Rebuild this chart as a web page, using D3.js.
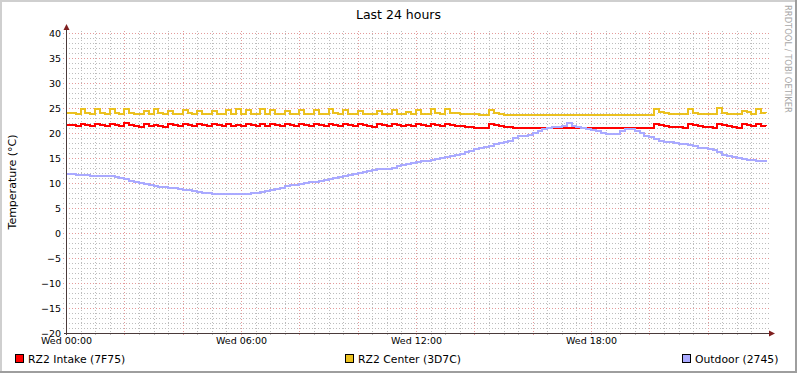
<!DOCTYPE html>
<html>
<head>
<meta charset="utf-8">
<script src="https://cdn.jsdelivr.net/npm/d3@7"></script>
<style>
body { margin: 0; background: #fff; }
text { font-family: "DejaVu Sans", sans-serif; }
</style>
</head>
<body>
<div id="chart"></div>
<script>
// series names / colours as in the legend
const seriesNames = ["RZ2 Intake (7F75)", "RZ2 Center (3D7C)", "Outdoor (2745)"];
const seriesColors = ["#ff0000", "#ebc11f", "#aaaaff"];

const yTicks = [-20, -15, -10, -5, 0, 5, 10, 15, 20, 25, 30, 35, 40];
const xLabelHours = [0, 6, 12, 18];
const stepMinutes = 10; // one sample every 10 min, Wed 00:00 .. Thu 00:00

const intake = [
  21.7, 21.6, 21.4, 21.8, 21.6, 21.4, 21.9, 21.6, 21.4, 21.8,
  21.6, 21.4, 22.1, 21.6, 21.4, 21.3, 21.8, 21.5, 21.7, 21.5,
  21.3, 21.8, 21.6, 21.4, 21.8, 21.6, 21.4, 21.8, 21.6, 21.4,
  21.8, 21.6, 21.4, 21.8, 21.5, 21.7, 21.5, 21.8, 21.6, 21.4,
  21.8, 21.5, 21.8, 21.6, 21.4, 21.8, 21.6, 21.4, 21.8, 21.6,
  21.4, 21.8, 21.6, 21.4, 21.8, 21.6, 21.4, 21.8, 21.6, 21.4,
  21.8, 21.6, 21.4, 21.3, 21.8, 21.6, 21.4, 21.8, 21.6, 21.4,
  21.7, 21.5, 21.8, 21.6, 21.4, 21.8, 21.6, 21.4, 21.9, 21.7,
  21.5, 21.4, 21.3, 21.2, 21.1, 21.1, 21.0, 21.8, 21.6, 21.4,
  21.3, 21.2, 21.1, 21.1, 21.0, 21.0, 21.0, 21.0, 21.0, 21.0,
  21.0, 21.0, 21.0, 21.0, 21.0, 21.0, 21.0, 21.0, 21.0, 21.0,
  21.0, 21.0, 21.0, 21.0, 21.0, 21.0, 21.0, 21.0, 21.0, 21.0,
  21.0, 21.8, 21.6, 21.5, 21.3, 21.2, 21.2, 21.1, 21.8, 21.6,
  21.4, 21.3, 21.2, 21.1, 21.8, 21.6, 21.4, 21.3, 21.1, 21.8,
  21.6, 21.4, 21.8, 21.5, 21.4
];

const center = [
  24.1, 24.0, 23.9, 24.9, 24.0, 23.9, 24.8, 24.0, 23.9, 24.9,
  24.0, 23.8, 24.9, 24.0, 23.9, 23.8, 24.5, 23.9, 24.8, 24.0,
  23.8, 24.4, 23.9, 23.8, 24.7, 24.0, 23.8, 24.4, 23.9, 23.8,
  24.4, 23.9, 23.8, 24.6, 23.9, 24.8, 23.9, 24.6, 23.9, 23.8,
  24.8, 23.9, 24.6, 23.9, 23.8, 24.5, 23.9, 23.8, 24.6, 23.9,
  23.8, 24.6, 23.9, 23.8, 24.9, 24.0, 23.8, 24.7, 23.9, 23.8,
  24.5, 23.9, 23.8, 23.8, 24.4, 23.9, 23.8, 24.7, 23.9, 23.8,
  24.2, 23.8, 24.6, 23.9, 23.8, 24.8, 24.0, 23.8, 24.9, 24.1,
  24.0, 23.9, 23.8, 23.8, 23.9, 23.7, 23.7, 24.6, 24.0, 23.8,
  23.7, 23.7, 23.7, 23.7, 23.7, 23.7, 23.7, 23.7, 23.7, 23.7,
  23.7, 23.7, 23.7, 23.7, 23.7, 23.7, 23.7, 23.7, 23.7, 23.7,
  23.7, 23.7, 23.7, 23.7, 23.7, 23.7, 23.7, 23.7, 23.7, 23.7,
  23.7, 24.8, 24.2, 24.1, 23.9, 23.8, 23.8, 23.8, 24.9, 24.1,
  23.9, 23.8, 23.8, 23.8, 25.0, 24.1, 23.9, 23.8, 23.8, 24.5,
  24.2, 23.8, 24.9, 24.1, 24.0
];

const outdoor = [
  11.9, 11.8, 11.7, 11.6, 11.6, 11.5, 11.5, 11.5, 11.5, 11.4,
  11.2, 11.0, 10.8, 10.5, 10.2, 10.0, 9.8, 9.6, 9.4, 9.3,
  9.2, 9.1, 9.0, 8.9, 8.7, 8.6, 8.4, 8.2, 8.1, 8.0,
  7.9, 7.8, 7.8, 7.8, 7.8, 7.8, 7.8, 7.9, 8.0, 8.1,
  8.3, 8.4, 8.6, 8.9, 9.1, 9.4, 9.6, 9.7, 9.9, 10.0,
  10.2, 10.3, 10.5, 10.6, 10.8, 11.0, 11.2, 11.4, 11.6, 11.8,
  12.0, 12.2, 12.5, 12.7, 12.8, 12.8, 12.9, 13.1, 13.4, 13.6,
  13.9, 14.0, 14.2, 14.4, 14.5, 14.7, 14.9, 15.1, 15.3, 15.5,
  15.6, 15.9, 16.2, 16.5, 16.8, 17.0, 17.3, 17.5, 17.8, 18.0,
  18.3, 18.5, 19.0, 19.4, 19.5, 19.6, 20.0, 20.5, 20.9, 21.1,
  21.2, 21.3, 21.4, 22.1, 21.5, 21.2, 21.1, 20.9, 20.7, 20.4,
  20.1, 19.9, 19.9, 19.9, 20.4, 20.9, 20.9, 20.5, 20.0, 19.5,
  19.2, 18.8, 18.5, 18.3, 18.2, 18.0, 17.9, 17.8, 17.7, 17.4,
  17.1, 17.0, 16.9, 16.6, 16.2, 15.7, 15.5, 15.3, 15.1, 14.8,
  14.6, 14.6, 14.5, 14.4, 14.2
];

const width = 797, height = 373;
const plotLeft = 66, plotRight = 766, plotTop = 33, plotBottom = 333;

const start = new Date(2014, 0, 1, 0, 0); // a Wednesday
const end = d3.timeHour.offset(start, 24);
const times = d3.range(intake.length).map(i => d3.timeMinute.offset(start, i * stepMinutes));

const x = d3.scaleTime().domain([start, end]).range([plotLeft, plotRight]);
const y = d3.scaleLinear().domain([-20, 40]).range([plotBottom, plotTop]);

const svg = d3.select("#chart")
    .append("svg")
    .attr("width", width)
    .attr("height", height);

// background + rrdtool style shaded frame
svg.append("rect").attr("width", width).attr("height", height).attr("fill", "#ffffff");
svg.append("rect").attr("x", 0).attr("y", 0).attr("width", width).attr("height", 2).attr("fill", "#cfcfcf");
svg.append("rect").attr("x", 0).attr("y", 0).attr("width", 2).attr("height", height).attr("fill", "#cfcfcf");
svg.append("rect").attr("x", 0).attr("y", height - 2).attr("width", width).attr("height", 2).attr("fill", "#9e9e9e");
svg.append("rect").attr("x", width - 2).attr("y", 0).attr("width", 2).attr("height", height).attr("fill", "#9e9e9e");

// grid
const grid = svg.append("g").attr("shape-rendering", "crispEdges");
const minorY = d3.range(-19, 41).filter(v => v % 5 !== 0);
const majorY = yTicks.filter(v => v !== -20);
const minorX = d3.timeMinute.every(30).range(d3.timeMinute.offset(start, 1), end)
    .filter(d => d.getMinutes() !== 0 || d.getHours() % 2 !== 0);
const majorX = d3.timeHour.every(2).range(d3.timeMinute.offset(start, 1), end);

grid.selectAll(".hmin").data(minorY).enter().append("line")
    .attr("x1", plotLeft - 3).attr("x2", plotRight + 3)
    .attr("y1", d => Math.round(y(d)) + 0.5).attr("y2", d => Math.round(y(d)) + 0.5)
    .attr("stroke", "#bdbdbd").attr("stroke-dasharray", "1,2");
grid.selectAll(".vmin").data(minorX).enter().append("line")
    .attr("x1", d => Math.round(x(d)) + 0.5).attr("x2", d => Math.round(x(d)) + 0.5)
    .attr("y1", plotTop - 2).attr("y2", plotBottom + 2)
    .attr("stroke", "#bdbdbd").attr("stroke-dasharray", "1,2");
grid.selectAll(".hmaj").data(majorY).enter().append("line")
    .attr("x1", plotLeft - 3).attr("x2", plotRight + 3)
    .attr("y1", d => Math.round(y(d)) + 0.5).attr("y2", d => Math.round(y(d)) + 0.5)
    .attr("stroke", "#e49a9a").attr("stroke-dasharray", "1,2");
grid.selectAll(".vmaj").data(majorX).enter().append("line")
    .attr("x1", d => Math.round(x(d)) + 0.5).attr("x2", d => Math.round(x(d)) + 0.5)
    .attr("y1", plotTop - 2).attr("y2", plotBottom + 3)
    .attr("stroke", "#e49a9a").attr("stroke-dasharray", "1,2");

// data lines
const line = d3.line()
    .x((d, i) => x(times[i]))
    .y(d => y(d))
    .curve(d3.curveStepAfter);

[intake, center, outdoor].forEach((values, k) => {
    svg.append("path")
        .datum(values)
        .attr("d", line)
        .attr("fill", "none")
        .attr("stroke", seriesColors[k])
        .attr("stroke-width", 2)
        .attr("shape-rendering", "crispEdges");
});

// axes lines with arrows
svg.append("line")
    .attr("x1", plotLeft + 0.5).attr("x2", plotLeft + 0.5)
    .attr("y1", plotBottom + 2).attr("y2", plotTop - 5)
    .attr("stroke", "#4a3a3a").attr("shape-rendering", "crispEdges");
svg.append("line")
    .attr("x1", plotLeft - 2).attr("x2", plotRight + 4)
    .attr("y1", plotBottom + 0.5).attr("y2", plotBottom + 0.5)
    .attr("stroke", "#4a3a3a").attr("shape-rendering", "crispEdges");
svg.append("path")
    .attr("d", `M${plotLeft - 2.5},${plotTop - 3} L${plotLeft + 3.5},${plotTop - 3} L${plotLeft + 0.5},${plotTop - 9} Z`)
    .attr("fill", "#7f1f1f");
svg.append("path")
    .attr("d", `M${plotRight + 3},${plotBottom - 2.5} L${plotRight + 3},${plotBottom + 3.5} L${plotRight + 9},${plotBottom + 0.5} Z`)
    .attr("fill", "#7f1f1f");

// tick labels
const yAxis = svg.append("g")
    .attr("transform", `translate(${plotLeft},0)`)
    .call(d3.axisLeft(y).tickValues(yTicks).tickSize(0).tickPadding(5));
yAxis.select(".domain").remove();
yAxis.selectAll("text").attr("font-size", "9.5px").attr("font-family", "DejaVu Sans").attr("fill", "#000");

const xAxis = svg.append("g")
    .attr("transform", `translate(0,${plotBottom})`)
    .call(d3.axisBottom(x)
        .tickValues(xLabelHours.map(h => d3.timeHour.offset(start, h)))
        .tickFormat(d3.timeFormat("%a %H:%M"))
        .tickSize(0).tickPadding(4));
xAxis.select(".domain").remove();
xAxis.selectAll("text").attr("font-size", "9.5px").attr("font-family", "DejaVu Sans").attr("fill", "#000");

// titles
svg.append("text")
    .attr("x", 398.5).attr("y", 19)
    .attr("text-anchor", "middle")
    .attr("font-size", "12.5px")
    .text("Last 24 hours");

svg.append("text")
    .attr("transform", "translate(16,182) rotate(-90)")
    .attr("text-anchor", "middle")
    .attr("font-size", "11px")
    .text("Temperature (°C)");

svg.append("text")
    .attr("transform", "translate(785,5) rotate(90)")
    .attr("font-size", "8.4px")
    .attr("fill", "#a8a8a8")
    .text("RRDTOOL / TOBI OETIKER");

// legend
const legendX = [15, 345, 682];
const legend = svg.selectAll(".legend").data(seriesNames).enter().append("g")
    .attr("transform", (d, i) => `translate(${legendX[i]},354)`);
legend.append("rect")
    .attr("x", 0.5).attr("y", 0.5).attr("width", 8).attr("height", 8)
    .attr("fill", (d, i) => seriesColors[i])
    .attr("stroke", "#000").attr("shape-rendering", "crispEdges");
legend.append("text")
    .attr("x", 13).attr("y", 9)
    .attr("font-size", "10.8px")
    .text(d => d);
</script>
</body>
</html>
